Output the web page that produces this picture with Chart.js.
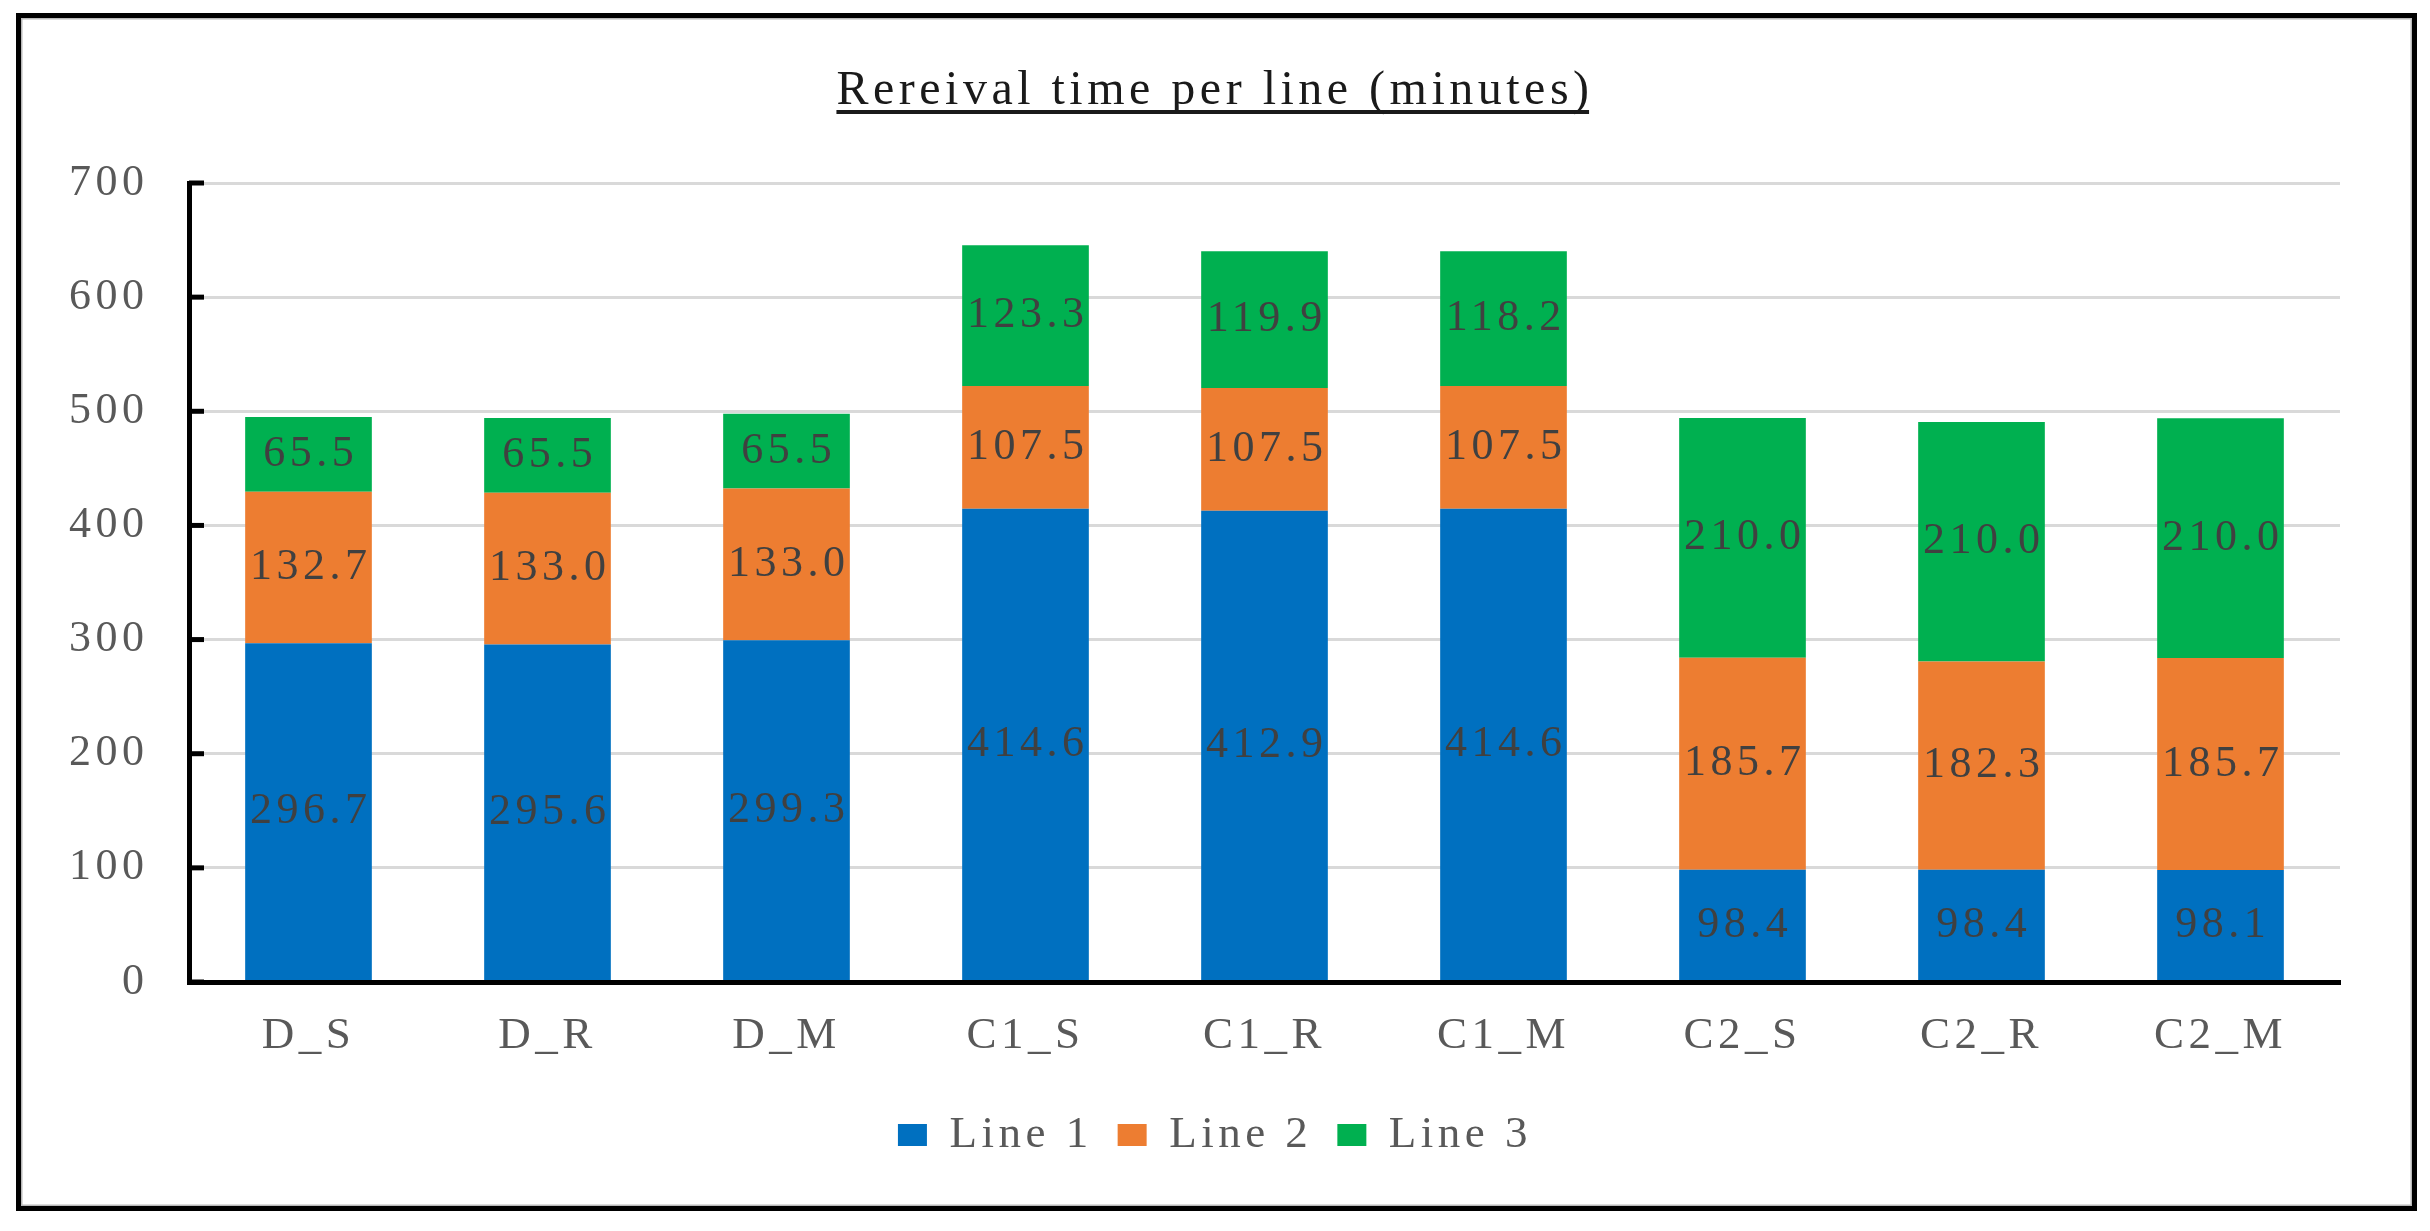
<!DOCTYPE html>
<html>
<head>
<meta charset="utf-8">
<script src="https://cdn.jsdelivr.net/npm/chart.js@4.4.1/dist/chart.umd.min.js"></script>
<style>
html,body{margin:0;padding:0;background:#fff;overflow:hidden;}
#wrap{position:relative;width:2430px;height:1231px;}
#c{position:absolute;left:0;top:0;}
#frame{position:absolute;left:16px;top:13px;width:2401px;height:1198px;box-sizing:border-box;border:5px solid #000;box-shadow:inset 0 0 0 1.5px #b8b8b8;pointer-events:none;}
</style>
</head>
<body>
<div id="wrap"><canvas id="c" width="2430" height="1231"></canvas><div id="frame"></div></div>
<script>
// ---- data ----
const categories = ['D_S', 'D_R', 'D_M', 'C1_S', 'C1_R', 'C1_M', 'C2_S', 'C2_R', 'C2_M'];
const line1 = [296.7, 295.6, 299.3, 414.6, 412.9, 414.6, 98.4, 98.4, 98.1];
const line2 = [132.7, 133.0, 133.0, 107.5, 107.5, 107.5, 185.7, 182.3, 185.7];
const line3 = [65.5, 65.5, 65.5, 123.3, 119.9, 118.2, 210.0, 210.0, 210.0];
const seriesNames = ['Line 1', 'Line 2', 'Line 3'];
const yTickValues = [0, 100, 200, 300, 400, 500, 600, 700];
const titleText = 'Rereival time per line (minutes)';

// ---- styles ----
const colors = ['#0070C0', '#ED7D31', '#00B050'];
const SPACING = 4.5;

Chart.defaults.font.family = "'Liberation Serif', 'Times New Roman', serif";

const spacingPlugin = {
  id: 'spacing',
  beforeLayout(chart) { chart.ctx.letterSpacing = SPACING + 'px'; },
  beforeDraw(chart) { chart.ctx.letterSpacing = SPACING + 'px'; }
};

const decorPlugin = {
  id: 'decor',
  afterDatasetsDraw(chart) {
    const ctx = chart.ctx;
    ctx.save();
    ctx.letterSpacing = SPACING + 'px';
    ctx.font = "44px 'Liberation Serif'";
    ctx.fillStyle = '#404040';
    ctx.textAlign = 'center';
    ctx.textBaseline = 'middle';
    chart.data.datasets.forEach((ds, di) => {
      const meta = chart.getDatasetMeta(di);
      meta.data.forEach((el, i) => {
        const v = ds.data[i];
        const yMid = (el.y + el.base) / 2;
        ctx.fillText(v.toFixed(1), el.x + SPACING / 2, yMid);
      });
    });
    ctx.restore();
  },
  afterDraw(chart) {
    const ctx = chart.ctx;
    const ys = chart.scales.y;
    const area = chart.chartArea;
    ctx.save();
    // inside tick marks on the value axis
    ctx.strokeStyle = '#000';
    ctx.lineWidth = 5;
    ys.ticks.forEach(t => {
      const py = ys.getPixelForValue(t.value);
      ctx.beginPath();
      ctx.moveTo(area.left, py);
      ctx.lineTo(area.left + 15, py);
      ctx.stroke();
    });
    // underline of the title
    const tb = chart.titleBlock;
    if (tb) {
      ctx.letterSpacing = SPACING + 'px';
      ctx.font = "48px 'Liberation Serif'";
      const w = ctx.measureText(titleText).width;
      const cx = (tb.left + tb.right) / 2;
      ctx.fillStyle = '#1a1a1a';
      ctx.fillRect(cx - w / 2, 110, w - SPACING, 4);
    }
    ctx.restore();
  }
};

new Chart(document.getElementById('c'), {
  type: 'bar',
  data: {
    labels: categories,
    datasets: [
      { label: seriesNames[0], data: line1, backgroundColor: colors[0], borderWidth: 0 },
      { label: seriesNames[1], data: line2, backgroundColor: colors[1], borderWidth: 0 },
      { label: seriesNames[2], data: line3, backgroundColor: colors[2], borderWidth: 0 }
    ]
  },
  options: {
    responsive: false,
    animation: false,
    devicePixelRatio: 1,
    datasets: { bar: { barPercentage: 0.53, categoryPercentage: 1.0 } },
    layout: { padding: { top: 63, left: 0, right: 0, bottom: 63.5 } },
    scales: {
      x: {
        stacked: true,
        grid: { display: false, drawTicks: false },
        border: { display: true, color: '#000', width: 5, z: 1 },
        ticks: { padding: 27, color: '#595959', font: { size: 45 }, autoSkip: false, maxRotation: 0 },
        afterFit: s => { s.height = 105.5; }
      },
      y: {
        stacked: true,
        min: 0,
        max: 700,
        afterBuildTicks: s => { s.ticks = yTickValues.map(v => ({ value: v })); },
        afterFit: s => { s.width = 189; },
        grid: { color: '#d9d9d9', lineWidth: 3, drawTicks: false },
        border: { display: true, color: '#000', width: 5, z: 1 },
        ticks: { padding: 40.5, color: '#595959', font: { size: 44 } }
      },
      yRight: {
        position: 'right',
        display: true,
        min: 0,
        max: 700,
        grid: { display: false, drawTicks: false },
        border: { display: false },
        ticks: { display: false },
        afterFit: s => { s.width = 90; }
      }
    },
    plugins: {
      title: {
        display: true,
        text: titleText,
        color: '#1a1a1a',
        font: { size: 48, weight: 'normal' },
        padding: { top: 0, bottom: 62.4 }
      },
      legend: {
        position: 'bottom',
        labels: { boxWidth: 29, boxHeight: 22, padding: 25, color: '#595959', font: { size: 45 } }
      },
      tooltip: { enabled: false }
    }
  },
  plugins: [spacingPlugin, decorPlugin]
});
</script>
</body>
</html>
